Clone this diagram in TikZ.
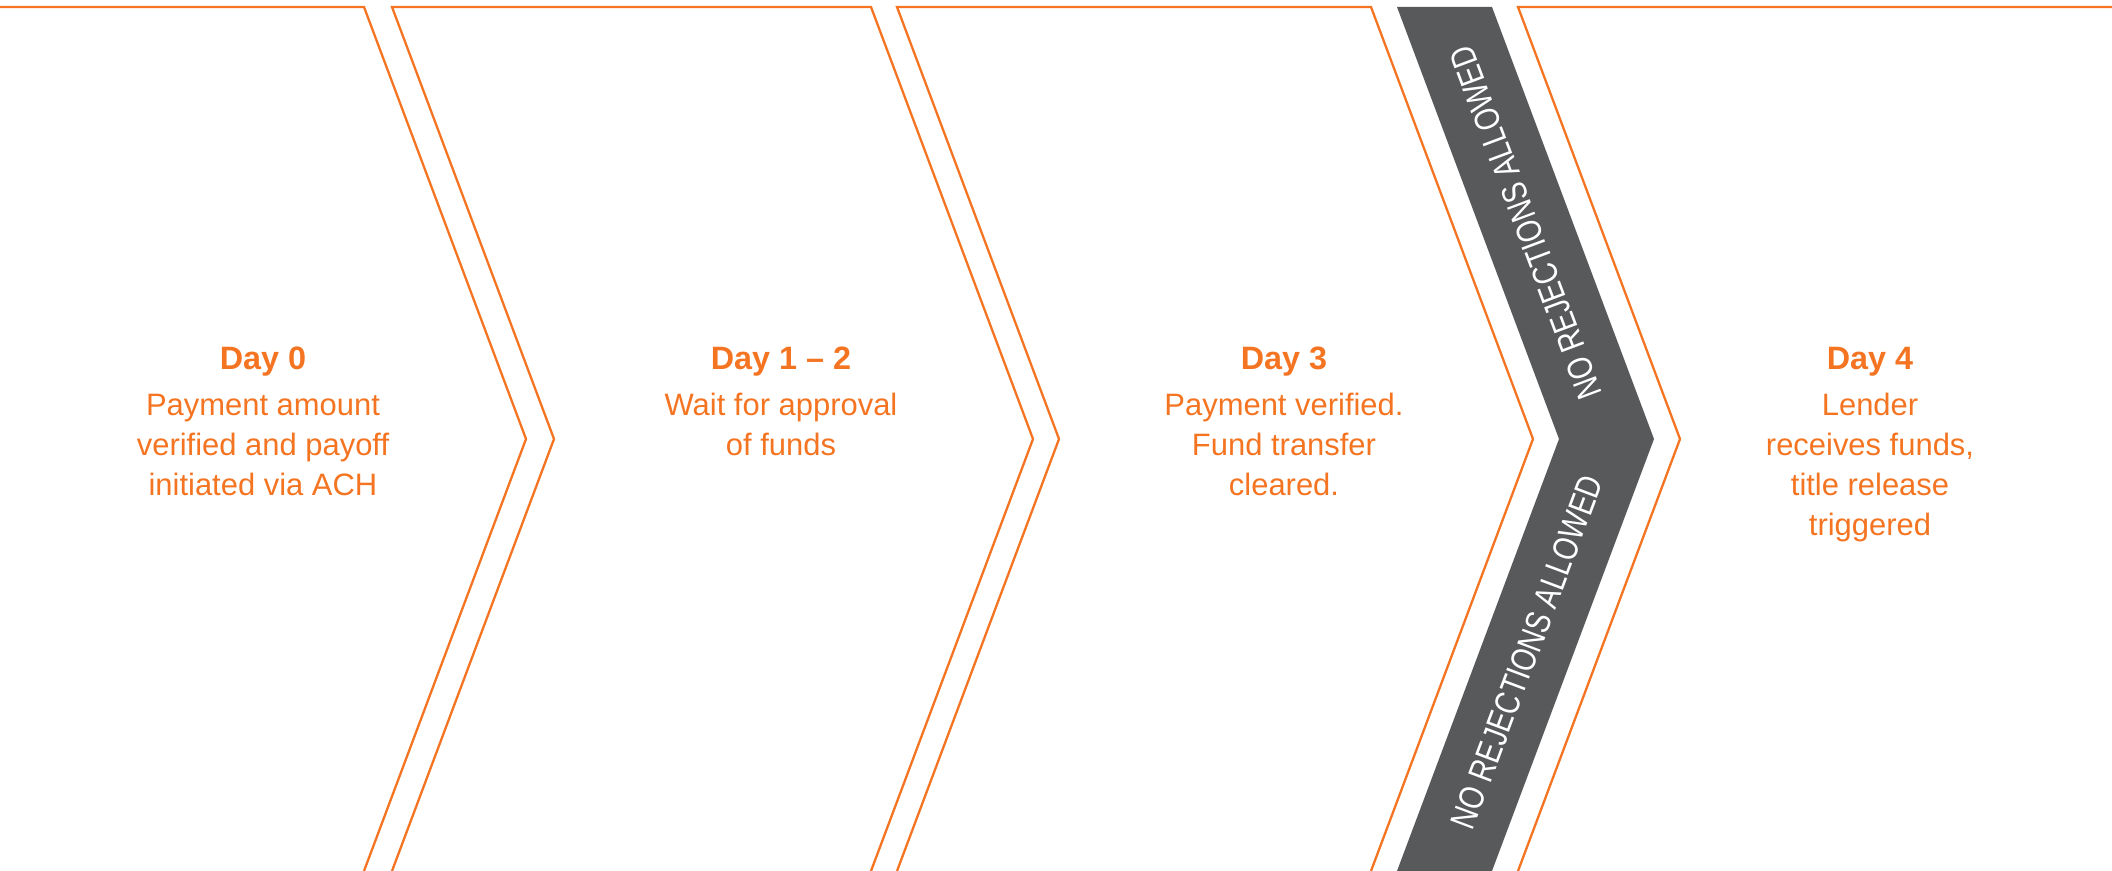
\documentclass[tikz,border=0pt]{standalone}
\usepackage{fontspec}
\setmainfont{Liberation Sans}
\newfontfamily\narrowfont[FakeStretch=0.8]{Liberation Sans}
\definecolor{payorange}{HTML}{F47421}
\definecolor{bandgray}{HTML}{58595B}
\tikzset{
    chevron/.style={
           draw=payorange,
           line width=0.65pt,
           line join=miter,
           },
    stage/.style={
           text=payorange,
           inner sep=0pt,
           anchor=base,
           font=\fontsize{8.8}{11.4}\selectfont,
           },
    bandtext/.style={
           text=white,
           inner sep=0pt,
           font=\narrowfont\fontsize{10}{11}\selectfont,
           },
}

\begin{document}
\begin{tikzpicture}[x=0.01cm,y=-0.01cm]
 \useasboundingbox (0,0) rectangle (2112,871);

 % chevrons
 \draw[chevron] (0,7) -- (364,7) -- (526,439) -- (364,871);
 \draw[chevron] (392,871) -- (554,439) -- (392,7) -- (871,7) -- (1033,439) -- (871,871);
 \draw[chevron] (897,871) -- (1059,439) -- (897,7) -- (1371,7) -- (1533,439) -- (1371,871);
 \draw[chevron] (1518,871) -- (1680,439) -- (1518,7) -- (2112,7);

 % grey band between day 3 and day 4
 \fill[bandgray] (1397,7) -- (1492,7) -- (1654,439) -- (1492,871)
   -- (1397,871) -- (1559,439) -- cycle;

 \node[bandtext, rotate=110.56] (UPPERBAND) at (1526,223) {NO REJECTIONS ALLOWED};
 \node[bandtext, rotate=69.44] (LOWERBAND) at (1527,652) {NO REJECTIONS ALLOWED};

 \node[stage] (DAY0) at (263,370)
 {\begin{tabular}[t]{c}
   \textbf{\fontsize{9.2}{11.4}\selectfont Day 0}\\[1.6pt]
   Payment amount\\
   verified and payoff\\
   initiated via ACH
  \end{tabular}};

 \node[stage] (DAY12) at (781,370)
 {\begin{tabular}[t]{c}
   \textbf{\fontsize{9.2}{11.4}\selectfont Day 1 -- 2}\\[1.6pt]
   Wait for approval\\
   of funds
  \end{tabular}};

 \node[stage] (DAY3) at (1284,370)
 {\begin{tabular}[t]{c}
   \textbf{\fontsize{9.2}{11.4}\selectfont Day 3}\\[1.6pt]
   Payment verified.\\
   Fund transfer\\
   cleared.
  \end{tabular}};

 \node[stage] (DAY4) at (1870,370)
 {\begin{tabular}[t]{c}
   \textbf{\fontsize{9.2}{11.4}\selectfont Day 4}\\[1.6pt]
   Lender\\
   receives funds,\\
   title release\\
   triggered
  \end{tabular}};
\end{tikzpicture}
\end{document}
